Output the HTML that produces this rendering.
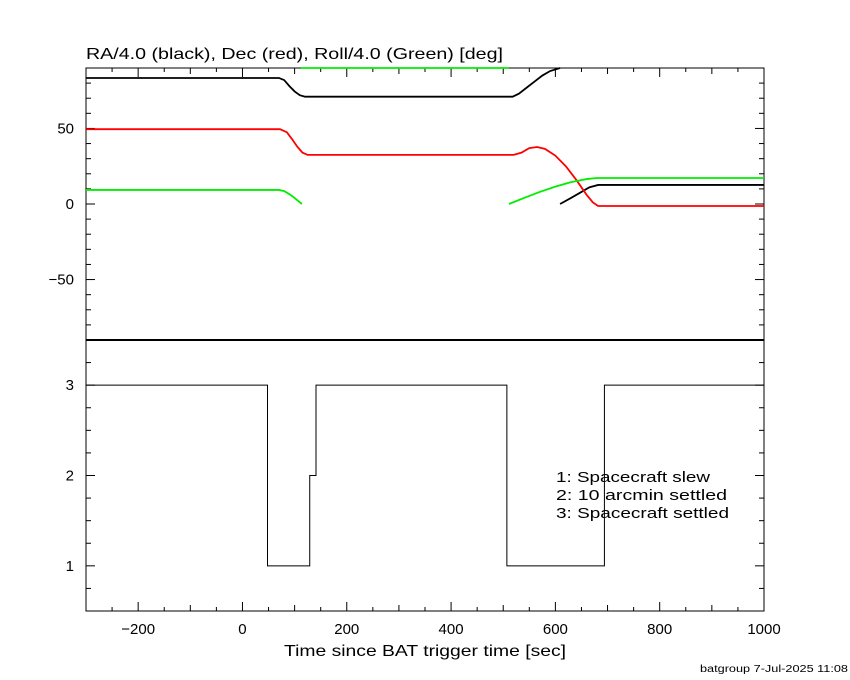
<!DOCTYPE html>
<html><head><meta charset="utf-8"><style>
body{margin:0;background:#fff;}
svg{display:block;font-family:"Liberation Sans",sans-serif;}
</style></head><body>
<svg id="c" width="850" height="680"></svg>
<script>
const raT=[-300,70,80,90,100,110,120,518,530,545,560,575,590,609];
const raV=[83.4,83.4,82,78,74.5,72,71,71,73,77,81,85,88,90];
const ra2T=[609,630,650,665,682,1000];
const ra2V=[0,4,8,11,12.6,12.6];
const decT=[-300,72,85,95,105,115,125,520,535,550,565,580,600,620,640,660,672,682,1000];
const decV=[49.5,49.5,47.5,43,38,34,32.5,32.5,34,37,37.7,36.5,32,25,16,6,1,-1.3,-1.3];
const rollT=[-300,70,80,90,100,114];
const rollV=[9.3,9.3,8.5,6.5,4,0];
const roll2T=[112,511];
const roll2V=[90,90];
const roll3T=[511,540,570,600,630,660,680,1000];
const roll3V=[0,4,8,11.5,14.5,16.5,17.2,17.2];
const stepT=[-300,48,129,141,507,694,1000];
const stepV=[3,1,2,3,1,3,3];
const xTicks=[-200,0,200,400,600,800,1000];
const yTopTicks=[-50,0,50];
const yBotTicks=[1,2,3];

const svg=document.getElementById('c');const NS='http://www.w3.org/2000/svg';
const L=86,R=764,T1=68,B1=340,T2=340,B2=611;
const X=v=>L+(v+300)/1300*(R-L);
const Y1=v=>T1+(90-v)/180*(B1-T1);
const Y2=v=>T2+(3.5-v)/3*(B2-T2);
function el(t,a,name){const e=document.createElementNS(NS,t);for(const k in a)e.setAttribute(k,a[k]);


svg.appendChild(e);return e;}
function txt(x,y,s,name,anchor,size,len){const a={x:x,y:y,'font-size':size||15,'text-anchor':anchor||'start',fill:'#000'};if(len){a.textLength=len;a.lengthAdjust='spacingAndGlyphs';}const e=el('text',a,name);e.textContent=s;return e;}
function poly(ts,vs,Yf,col,name){el('polyline',{points:ts.map((t,i)=>X(t)+','+Yf(vs[i])).join(' '),fill:'none',stroke:col,'stroke-width':1.8},name);}
el('rect',{x:L,y:T1,width:R-L,height:B2-T1,fill:'none',stroke:'#000','stroke-width':1},'plot-frame');
el('line',{x1:L,x2:R,y1:B1,y2:B1,stroke:'#000','stroke-width':2},'panel-divider');
for(let v=-300;v<=1000;v+=50){const maj=v%200===0,mid=v%100===0;const len=maj?9:(mid?6:4);
 [[T1,1],[B2,-1]].forEach(([y,d])=>el('line',{x1:X(v),x2:X(v),y1:y,y2:y+d*len,stroke:'#000'},'x-tick'));}
for(let v=-90;v<=90;v+=10){const len=v%50===0?9:5;
 el('line',{x1:L,x2:L+len,y1:Y1(v),y2:Y1(v),stroke:'#000'},'y-tick-top');
 el('line',{x1:R,x2:R-len,y1:Y1(v),y2:Y1(v),stroke:'#000'},'y-tick-top');}
for(let v=0.5;v<=3.5;v+=0.25){const len=Math.abs(v-Math.round(v))<0.01?9:5;
 el('line',{x1:L,x2:L+len,y1:Y2(v),y2:Y2(v),stroke:'#000'},'y-tick-bottom');
 el('line',{x1:R,x2:R-len,y1:Y2(v),y2:Y2(v),stroke:'#000'},'y-tick-bottom');}
xTicks.forEach(v=>txt(X(v),634,v<0?'\u2212'+(-v):String(v),'x-tick-label','middle'));
yTopTicks.forEach(v=>txt(74,Y1(v)+5,v<0?'\u2212'+(-v):String(v),'y-tick-label-top','end'));
yBotTicks.forEach(v=>txt(74,Y2(v)+5,String(v),'y-tick-label-bottom','end'));
poly(raT,raV,Y1,'#000','ra-series');poly(ra2T,ra2V,Y1,'#000','ra-series-wrapped');
poly(decT,decV,Y1,'#f00','dec-series');
poly(rollT,rollV,Y1,'#0e0','roll-series');poly(roll2T,roll2V,Y1,'#0e0','roll-series-top');poly(roll3T,roll3V,Y1,'#0e0','roll-series-end');
let pts=[];for(let i=0;i<stepT.length-1;i++){pts.push(X(stepT[i])+','+Y2(stepV[i]));pts.push(X(stepT[i+1])+','+Y2(stepV[i]));}
el('polyline',{points:pts.join(' '),fill:'none',stroke:'#000','stroke-width':1},'settle-status-step');
txt(86,59,'RA/4.0 (black), Dec (red), Roll/4.0 (Green) [deg]','top-title','start',16,417);
txt(284,656,'Time since BAT trigger time [sec]','x-axis-title','start',16,282);
txt(556,482,'1: Spacecraft slew','legend-slew','start',15,154);
txt(556,500,'2: 10 arcmin settled','legend-10arcmin','start',15,171);
txt(556,518,'3: Spacecraft settled','legend-settled','start',15,173);
txt(848,672,'batgroup  7-Jul-2025 11:08','footer-stamp','end',10,148);
</script>
</body></html>
